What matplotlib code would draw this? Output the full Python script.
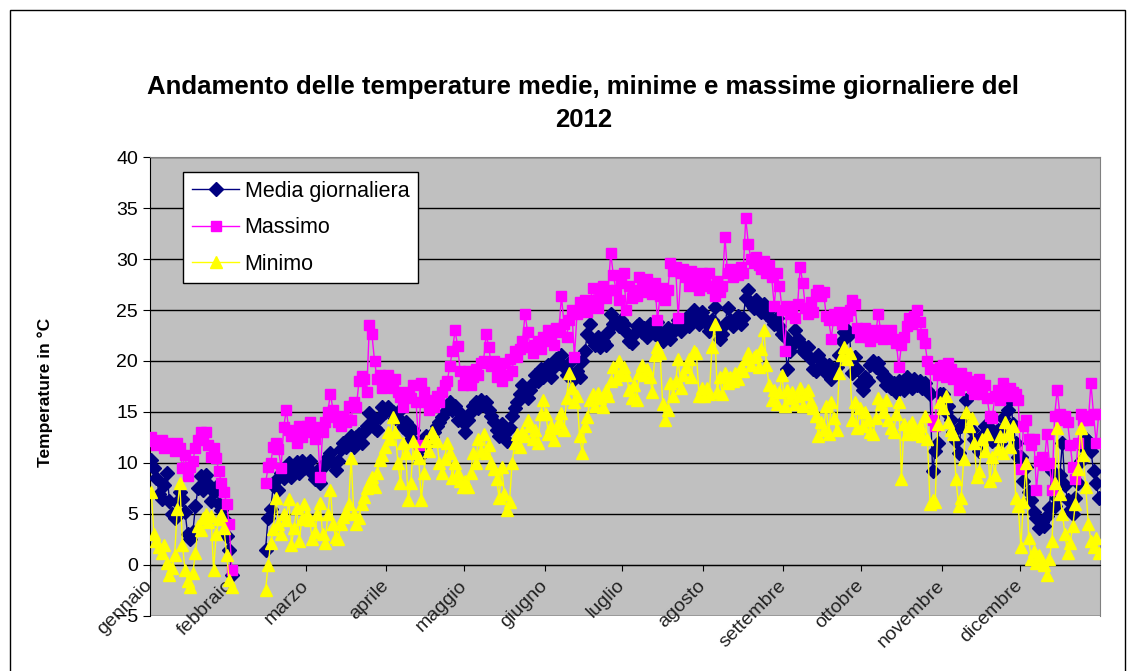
import numpy as np
import matplotlib.pyplot as plt
from matplotlib.patches import Rectangle

plt.rcParams['font.family'] = ['Liberation Sans', 'DejaVu Sans']

# mesi e primo giorno di ogni mese (indice del giorno nel 2012)
mesi = ['gennaio', 'febbraio', 'marzo', 'aprile', 'maggio', 'giugno',
        'luglio', 'agosto', 'settembre', 'ottobre', 'novembre', 'dicembre']
inizio_mese = [0, 31, 60, 91, 121, 152, 182, 213, 244, 274, 305, 335]

# temperature giornaliere (None = dato mancante)
media = [
    # gen
    10.3, 9.5, 8.5, 7.0, 6.5, 7.8, 9.0, 6.3, 5.0, 4.6, 6.2, 7.2, 6.5, 5.2, 3.0, 2.5,
    3.2, 5.8, 7.5, 8.7, 7.4, 8.8, 7.9, 6.3, 7.2, 7.6, 6.0, 5.4, 4.5, 2.8, 1.5,
    # feb
    -1.0, None, None, None, None, None, None, None, None, None, None, None, None,
    1.5, 4.6, 5.5, 7.8, 8.3, 7.4, 9.0, 8.5, 9.2, 10.0, 8.6, 9.6, 10.1, 9.0, 10.2, 9.5,
    # mar
    9.6, 10.2, 9.0, 8.4, 9.2, 8.0, 9.6, 10.0, 10.6, 11.0, 10.0, 9.3, 10.2, 11.4, 12.0, 11.6,
    12.2, 12.6, 11.6, 12.5, 12.8, 12.0, 13.0, 13.6, 14.9, 14.0, 13.4, 13.2, 14.5, 15.5, 15.0,
    # apr
    15.5, 15.2, 15.0, 14.4, 15.0, 14.2, 13.5, 14.0, 13.0, 12.4, 13.2, 12.0, 10.6, 11.6, 12.2,
    12.6, 12.0, 12.5, 13.0, 13.6, 14.0, 14.5, 15.0, 15.6, 16.0, 15.2, 15.6, 14.2, 14.9, 14.0,
    # mag
    13.0, 14.2, 15.0, 15.6, 16.0, 15.4, 16.2, 15.8, 16.0, 15.2, 14.6, 14.0, 13.2, 12.6, 13.8, 12.8,
    12.2, 13.4, 14.6, 15.4, 16.0, 16.8, 17.6, 17.0, 16.4, 17.2, 17.8, 18.6, 18.0, 19.2, 18.4,
    # giu
    18.8, 19.6, 18.4, 19.4, 20.2, 19.8, 20.6, 19.4, 18.6, 19.8, 18.6, 18.2, 19.0, 18.4, 20.0,
    21.0, 22.6, 23.6, 22.0, 21.6, 22.4, 21.4, 22.0, 21.6, 22.8, 24.6, 23.6, 23.8, 23.4, 24.0,
    # lug
    23.6, 22.8, 22.0, 21.8, 22.6, 23.4, 23.6, 22.8, 23.2, 22.4, 23.6, 23.0, 22.6, 23.8, 22.8, 22.0,
    22.6, 23.2, 22.2, 22.8, 23.4, 24.0, 22.9, 23.6, 24.2, 23.4, 24.6, 25.0, 24.2, 23.6, 24.8,
    # ago
    24.2, 23.6, 22.9, 24.0, 25.3, 23.4, 22.2, 22.6, 23.6, 25.2, 24.0, 23.4, 23.8, 24.4, 23.6, 24.2,
    26.2, 27.0, 25.6, 25.2, 26.0, 25.4, 24.8, 25.6, 24.6, 25.0, 24.0, 23.6, 24.2, 23.4, 22.6,
    # set
    22.4, 19.2, 21.0, 21.6, 23.0, 22.2, 21.8, 21.0, 20.8, 21.4, 20.2, 19.2, 19.0, 20.6, 20.0,
    19.4, 18.8, 19.6, 18.2, 18.6, 19.4, 20.6, 22.0, 22.8, 23.0, 22.6, 18.8, 20.4, 19.2, 17.8,
    # ott
    17.2, 18.4, 18.0, 19.6, 20.0, 19.4, 19.8, 19.0, 18.4, 17.6, 18.2, 17.4, 17.8, 17.0, 18.0, 17.6,
    17.2, 18.4, 18.0, 17.4, 18.2, 17.6, 18.0, 17.4, 17.8, 17.2, 16.8, 9.2, 11.2, 12.0, 16.8,
    # nov
    16.8, 15.0, 15.6, 14.2, 13.0, 12.2, 11.0, 13.6, 14.2, 16.2, 14.0, 13.2, 12.4, 12.0, 11.2,
    12.6, 13.6, 12.8, 13.4, 12.2, 12.8, 13.2, 12.0, 14.4, 13.6, 15.2, 16.2, 13.8, 12.0, 10.6,
    # dic
    10.6, 8.2, 9.6, 7.2, 6.4, 5.2, 4.6, 3.6, 4.2, 3.8, 4.8, 5.6, 9.2, 5.8, 6.6, 8.8,
    12.0, 7.8, 6.4, 5.4, 5.0, 6.6, 8.0, 10.2, 11.6, 12.4, 12.2, 11.2, 9.2, 8.0, 6.6,
]

massimo = [
    # gen
    12.5, 12.2, 11.8, 12.0, 12.3, 11.5, 12.0, 11.7, 11.8, 11.2, 12.0, 11.5, 9.5, 10.8, 8.7, 9.6,
    10.2, 11.5, 12.3, 13.0, 12.6, 13.0, 11.8, 10.6, 11.5, 10.5, 9.2, 8.0, 7.2, 6.0, 4.0,
    # feb
    -0.5, None, None, None, None, None, None, None, None, None, None, None, None,
    8.0, 9.6, 10.0, 11.6, 12.0, 11.4, 9.5, 13.5, 15.2, 13.2, 12.6, 13.0, 12.0, 13.6, 12.5, 13.1,
    # mar
    13.6, 14.0, 13.0, 12.4, 13.5, 8.6, 13.0, 14.0, 15.0, 16.8, 15.2, 14.5, 14.0, 13.6, 14.6, 14.0,
    15.6, 14.2, 16.0, 15.5, 18.0, 18.5, 18.2, 17.0, 23.5, 22.6, 20.0, 18.2, 18.6, 17.4, 18.0,
    # apr
    18.6, 18.0, 17.4, 18.2, 17.0, 16.5, 15.5, 16.6, 17.0, 16.4, 17.6, 16.0, 11.8, 17.8, 17.0,
    16.0, 15.2, 16.2, 15.5, 16.6, 16.0, 17.0, 17.6, 18.0, 19.5, 21.0, 23.0, 21.5, 19.0, 17.6,
    # mag
    18.0, 19.0, 17.6, 18.4, 19.2, 18.6, 19.8, 20.0, 22.6, 21.4, 19.5, 20.0, 18.4, 19.2, 18.0, 19.8,
    18.6, 20.2, 19.0, 21.0, 20.4, 21.2, 22.0, 24.6, 22.8, 21.4, 20.8, 21.6, 22.0, 21.2, 22.4,
    # giu
    22.0, 23.0, 22.4, 21.6, 23.2, 22.8, 26.4, 23.6, 22.4, 24.0, 25.0, 20.4, 24.6, 25.8, 25.0,
    26.0, 24.8, 25.6, 27.2, 26.0, 25.2, 26.6, 27.4, 26.2, 27.0, 30.6, 28.4, 27.0, 26.0, 27.6,
    # lug
    28.6, 25.0, 27.4, 26.2, 27.0, 26.4, 28.2, 27.4, 26.8, 28.0, 27.2, 26.6, 27.6, 24.0, 26.4, 27.2,
    26.0, 27.0, 29.6, 28.8, 29.2, 24.2, 28.6, 29.0, 28.2, 27.4, 28.8, 27.6, 28.2, 27.0, 28.6,
    # ago
    28.0, 27.4, 28.6, 27.2, 26.4, 27.8, 26.8, 27.4, 32.2, 28.6, 29.0, 28.2, 28.8, 28.4, 29.2, 28.6,
    34.0, 31.5, 30.0, 29.6, 30.2, 29.4, 29.0, 29.8, 28.6, 29.4, 28.2, 25.4, 28.6, 27.4, 25.0,
    # set
    21.0, 25.4, 24.6, 25.0, 24.2, 25.6, 29.2, 27.6, 25.2, 24.6, 25.8, 24.8, 26.6, 27.0, 26.4,
    26.8, 24.4, 24.0, 22.2, 24.6, 24.0, 24.8, 23.6, 24.2, 24.4, 25.0, 26.0, 25.6, 23.2, 22.4,
    # ott
    22.6, 23.2, 22.4, 22.0, 23.0, 22.4, 24.6, 23.0, 22.2, 22.8, 22.4, 23.0, 22.2, 21.8, 19.4, 21.6,
    22.4, 23.4, 24.2, 23.6, 24.4, 25.0, 23.8, 22.6, 21.8, 20.0, 19.2, 14.2, 13.6, 18.6, 19.4,
    # nov
    19.6, 18.4, 19.8, 19.2, 18.2, 18.6, 17.2, 18.8, 17.6, 18.4, 18.0, 17.4, 16.8, 17.8, 18.2,
    16.8, 17.6, 16.4, 14.6, 14.4, 16.6, 17.2, 16.2, 17.8, 17.0, 16.6, 17.4, 17.0, 16.8, 16.2,
    # dic
    9.4, 13.6, 14.2, 12.4, 11.8, 12.4, 7.4, 10.2, 10.6, 9.8, 12.8, 10.0, 7.4, 14.6, 17.2, 14.8,
    14.2, 14.6, 14.0, 11.8, 9.6, 8.4, 12.0, 14.8, 14.2, 14.6, 14.2, 17.8, 14.8, 12.0, 14.8,
]

minimo = [
    # gen
    7.2, 3.0, 2.4, 1.8, 1.2, 2.0, 0.2, -1.0, -0.3, 1.0, 5.5, 8.0, 2.0, -0.5, -1.6, -2.2,
    -0.8, 1.2, 3.8, 3.4, 4.6, 5.0, 4.2, 4.8, -0.5, 3.0, 4.5, 4.9, 3.6, 1.0, -1.5,
    # feb
    -2.2, None, None, None, None, None, None, None, None, None, None, None, None,
    -2.5, 0.0, 2.2, 3.5, 6.6, 4.0, 3.0, 5.0, 4.4, 6.5, 2.0, 3.6, 5.6, 2.4, 4.5, 6.0,
    # mar
    5.0, 4.4, 2.5, 3.2, 5.0, 6.1, 3.0, 2.2, 5.0, 7.4, 4.0, 2.7, 2.5, 4.0, 4.7, 5.2,
    6.0, 10.5, 5.0, 4.0, 4.6, 6.0, 6.7, 7.5, 8.0, 8.6, 7.6, 9.0, 10.3, 10.8, 11.6,
    # apr
    13.0, 12.4, 14.5, 13.0, 10.0, 8.0, 12.0, 11.0, 6.4, 8.0, 12.2, 11.0, 10.5, 6.4, 9.0,
    12.2, 11.2, 13.0, 12.5, 12.2, 10.0, 9.0, 10.4, 12.0, 11.0, 8.5, 10.0, 9.0, 8.2, 7.6,
    # mag
    8.2, 7.6, 9.0, 11.0, 10.0, 12.4, 11.2, 12.8, 11.0, 11.8, 10.0, 9.4, 8.4, 6.6, 9.6, 7.0,
    5.4, 6.2, 10.0, 12.0, 12.8, 11.6, 13.0, 12.6, 14.2, 13.6, 12.4, 13.2, 12.0, 14.8, 16.2,
    # giu
    14.8, 12.8, 13.6, 12.3, 13.4, 14.0, 14.9, 13.2, 16.4, 18.8, 17.4, 16.0, 16.6, 12.6, 11.0,
    13.6, 14.5, 16.2, 16.8, 15.6, 16.9, 16.4, 15.5, 17.2, 16.6, 18.0, 19.4, 18.2, 20.0, 18.8,
    # lug
    19.4, 18.6, 17.2, 16.4, 17.6, 16.2, 18.8, 19.6, 18.6, 19.2, 18.4, 17.0, 20.6, 21.4, 20.8, 15.8,
    14.2, 15.2, 17.8, 16.6, 18.0, 20.2, 17.4, 18.6, 19.4, 20.2, 18.4, 21.0, 20.8, 16.6, 17.4,
    # ago
    16.6, 17.4, 16.8, 21.4, 23.6, 17.0, 18.4, 16.8, 18.8, 17.8, 18.4, 18.0, 18.8, 18.2, 19.4, 19.0,
    20.2, 20.8, 19.6, 20.4, 20.6, 19.4, 21.2, 23.0, 19.6, 17.6, 16.2, 17.2, 15.8, 17.0, 18.6,
    # set
    15.6, 17.2, 16.4, 17.0, 15.8, 16.6, 17.4, 15.6, 16.8, 17.2, 16.0, 15.4, 14.6, 12.6, 14.0,
    13.2, 15.6, 12.8, 16.0, 14.4, 13.2, 18.8, 20.6, 21.4, 20.2, 20.8, 14.2, 16.0, 13.4, 15.4,
    # ott
    13.6, 15.0, 14.2, 13.0, 12.8, 14.4, 16.4, 15.8, 15.0, 16.2, 14.2, 13.4, 13.0, 14.8, 16.0, 8.4,
    13.8, 12.8, 13.6, 14.0, 13.0, 12.8, 13.6, 12.6, 14.6, 12.4, 6.0, 6.4, 6.2, 13.8, 16.0,
    # nov
    15.4, 16.6, 14.0, 13.2, 12.8, 8.4, 5.8, 6.6, 10.4, 15.0, 13.6, 14.4, 12.0, 8.6, 9.2,
    12.4, 11.2, 12.8, 8.2, 10.6, 8.8, 11.4, 12.6, 11.0, 14.0, 12.8, 11.6, 13.6, 6.6, 5.8,
    # dic
    1.8, 6.2, 10.0, 2.6, 0.6, 1.4, 0.2, 1.0, 0.4, 0.0, -1.0, 0.6, 2.4, 8.0, 13.4, 7.0,
    5.0, 3.0, 1.2, 2.2, 3.8, 6.0, 9.4, 13.4, 10.8, 7.6, 4.0, 2.4, 1.8, 2.6, 1.2,
]

media = np.array(media, dtype=float)
massimo = np.array(massimo, dtype=float)
minimo = np.array(minimo, dtype=float)
giorni = np.arange(len(media)) + 0.5

fig = plt.figure(figsize=(11.33, 6.71), dpi=100)
ax = fig.add_axes([0.1324, 0.082, 0.8385, 0.684])
ax.set_facecolor('#c0c0c0')

# l'asse x passa per lo zero (va fatto prima di impostare i tick)
ax.spines['bottom'].set_position(('data', 0))
ax.spines['bottom'].set_color('black')
ax.spines['left'].set_color('black')
for s in ('top', 'right'):
    ax.spines[s].set_color('#808080')

ax.plot(giorni, media, color='#000080', lw=1, marker='D', ms=7,
        mec='#000080', mfc='#000080', label='Media giornaliera', zorder=3)
ax.plot(giorni, massimo, color='#ff00ff', lw=1, marker='s', ms=7,
        mec='#ff00ff', mfc='#ff00ff', label='Massimo', zorder=3)
ax.plot(giorni, minimo, color='#ffff00', lw=1, marker='^', ms=8,
        mec='#ffff00', mfc='#ffff00', label='Minimo', zorder=3)

ax.set_xlim(0, len(media))
ax.set_ylim(-5, 40)
ax.set_yticks(range(-5, 41, 5))
ax.set_xticks(inizio_mese)
ax.set_xticklabels(mesi, rotation=45, ha='right', va='center',
                   rotation_mode='anchor', fontsize=14, color='#222222')
ax.tick_params(axis='x', direction='out', length=4, pad=9, color='black')
ax.tick_params(axis='y', direction='out', length=5, labelsize=14, color='black')

ax.yaxis.grid(True, color='black', lw=1)
ax.set_axisbelow(True)

leg = ax.legend(loc='upper left', bbox_to_anchor=(0.035, 0.967), fontsize=15.5,
                frameon=True, fancybox=False, edgecolor='black', framealpha=1,
                handlelength=2.2, handletextpad=0.25, labelspacing=0.72,
                borderpad=0.4, borderaxespad=0)
leg.get_frame().set_linewidth(1)

fig.text(0.515, 1 - 87 / 671, 'Andamento delle temperature medie, minime e massime giornaliere del',
         ha='center', va='center', fontsize=18.5, fontweight='bold')
fig.text(0.515, 1 - 120 / 671, '2012', ha='center', va='center',
         fontsize=18.5, fontweight='bold')
fig.text(45 / 1133, 1 - 392 / 671, 'Temperature in °C', rotation=90,
         ha='center', va='center', fontsize=12.5, fontweight='bold')

# cornice esterna del grafico
fig.patches.append(Rectangle((10 / 1133, -0.1), 1115 / 1133, 1.1 - 10 / 671,
                             transform=fig.transFigure, fill=False,
                             edgecolor='black', lw=1))

fig.savefig('out.png', dpi=100)
